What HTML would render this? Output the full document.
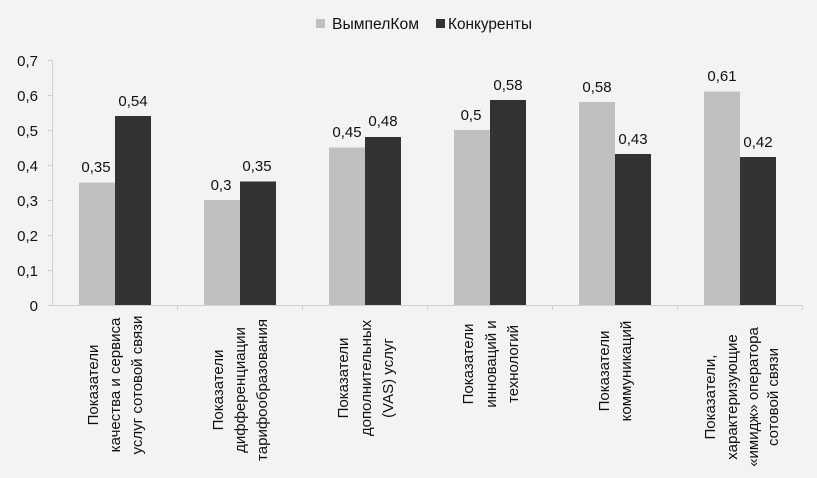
<!DOCTYPE html>
<html><head><meta charset="utf-8"><style>
html,body{margin:0;padding:0;background:#f3f3f3;}
svg{display:block;font-family:"Liberation Sans",Arial,sans-serif;}
</style></head><body>
<svg width="817" height="478" viewBox="0 0 817 478" xmlns="http://www.w3.org/2000/svg">
<rect width="817" height="478" fill="#f3f3f3"/>
<!-- legend -->
<rect x="316" y="19" width="9" height="9" fill="#c0c0c0"/>
<text x="332" y="29" font-size="15.5" fill="#111" textLength="87" lengthAdjust="spacingAndGlyphs">ВымпелКом</text>
<rect x="436" y="19" width="9" height="9" fill="#333"/>
<text x="448" y="29" font-size="15.5" fill="#111" textLength="84" lengthAdjust="spacingAndGlyphs">Конкуренты</text>
<!-- axes -->
<g stroke="#d0d0d0" stroke-width="1">
<line x1="52.5" y1="60" x2="52.5" y2="305"/>
<line x1="48" y1="60.5" x2="52" y2="60.5"/>
<line x1="48" y1="95.5" x2="52" y2="95.5"/>
<line x1="48" y1="130.5" x2="52" y2="130.5"/>
<line x1="48" y1="165.5" x2="52" y2="165.5"/>
<line x1="48" y1="200.5" x2="52" y2="200.5"/>
<line x1="48" y1="235.5" x2="52" y2="235.5"/>
<line x1="48" y1="270.5" x2="52" y2="270.5"/>
<line x1="48" y1="305.5" x2="802" y2="305.5"/>
<line x1="177.5" y1="305" x2="177.5" y2="310"/>
<line x1="302.5" y1="305" x2="302.5" y2="310"/>
<line x1="427.5" y1="305" x2="427.5" y2="310"/>
<line x1="552.5" y1="305" x2="552.5" y2="310"/>
<line x1="677.5" y1="305" x2="677.5" y2="310"/>
<line x1="802.5" y1="305" x2="802.5" y2="310"/>
</g>
<g font-size="15" fill="#111" text-anchor="end">
<text x="38" y="66">0,7</text><text x="38" y="101">0,6</text><text x="38" y="136">0,5</text>
<text x="38" y="171">0,4</text><text x="38" y="206">0,3</text><text x="38" y="241">0,2</text>
<text x="38" y="276">0,1</text><text x="38" y="311">0</text>
</g>
<!-- bars -->
<g fill="#c0c0c0">
<rect x="79" y="182.5" width="36" height="122.5"/>
<rect x="204" y="200" width="36" height="105"/>
<rect x="329" y="147.5" width="36" height="157.5"/>
<rect x="454" y="130" width="36" height="175"/>
<rect x="579" y="102" width="36" height="203"/>
<rect x="704" y="91.5" width="36" height="213.5"/>
</g>
<g fill="#333">
<rect x="115" y="116" width="36" height="189"/>
<rect x="240" y="181.5" width="36" height="123.5"/>
<rect x="365" y="137" width="36" height="168"/>
<rect x="490" y="100" width="36" height="205"/>
<rect x="615" y="154" width="36" height="151"/>
<rect x="740" y="157" width="36" height="148"/>
</g>
<g font-size="15" fill="#111" text-anchor="middle">
<text x="96" y="172">0,35</text><text x="133" y="106">0,54</text>
<text x="221" y="190">0,3</text><text x="257" y="171">0,35</text>
<text x="347" y="137">0,45</text><text x="383" y="126">0,48</text>
<text x="471" y="120">0,5</text><text x="508" y="90">0,58</text>
<text x="597" y="92">0,58</text><text x="633" y="144">0,43</text>
<text x="722" y="81">0,61</text><text x="758" y="147">0,42</text>
</g>
<!-- category labels -->
<g font-size="15" fill="#111" text-anchor="middle">
<text transform="translate(98,385) rotate(-90)">Показатели</text>
<text transform="translate(120,385) rotate(-90)">качества и сервиса</text>
<text transform="translate(142,385) rotate(-90)">услуг сотовой связи</text>
<text transform="translate(223,390) rotate(-90)">Показатели</text>
<text transform="translate(245,390) rotate(-90)">дифференциации</text>
<text transform="translate(267,390) rotate(-90)">тарифообразования</text>
<text transform="translate(348,378) rotate(-90)">Показатели</text>
<text transform="translate(371,378) rotate(-90)">дополнительных</text>
<text transform="translate(393,378) rotate(-90)">(VAS) услуг</text>
<text transform="translate(473,364) rotate(-90)">Показатели</text>
<text transform="translate(496,364) rotate(-90)">инноваций и</text>
<text transform="translate(518,364) rotate(-90)">технологий</text>
<text transform="translate(609,371) rotate(-90)">Показатели</text>
<text transform="translate(631,371) rotate(-90)">коммуникаций</text>
<text transform="translate(715,397) rotate(-90)">Показатели,</text>
<text transform="translate(737,397) rotate(-90)">характеризующие</text>
<text transform="translate(758,397) rotate(-90)">«имидж» оператора</text>
<text transform="translate(778,397) rotate(-90)">сотовой связи</text>
</g>
</svg>
</body></html>
